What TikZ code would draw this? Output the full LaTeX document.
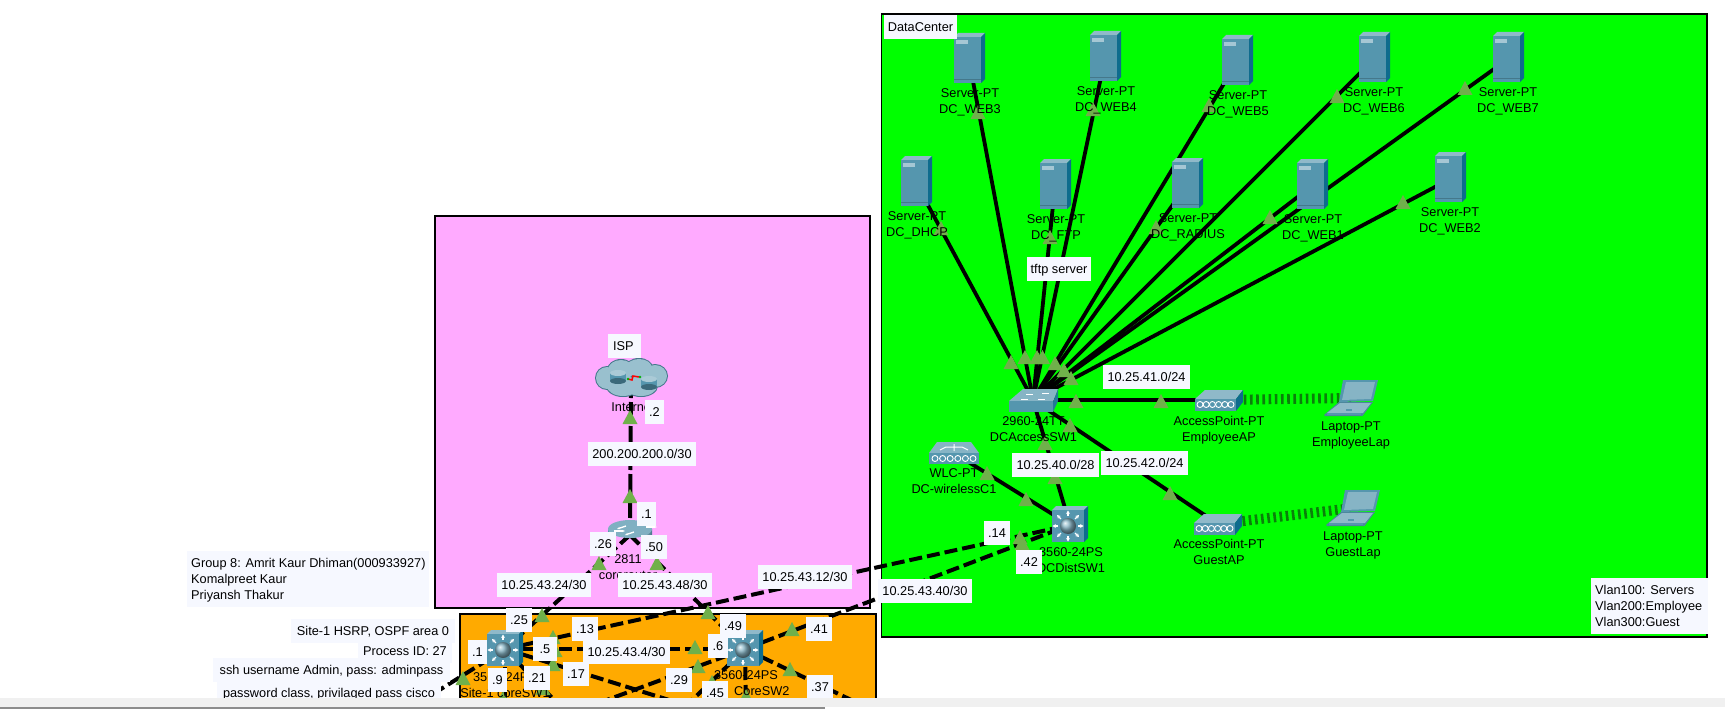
\documentclass[tikz,border=0pt]{standalone}
\usepackage{fontspec}
\usetikzlibrary{arrows.meta}
\setmainfont{Liberation Sans}
\definecolor{lampc}{HTML}{70B04B}
\definecolor{lblc}{HTML}{F6F8FF}
\definecolor{topc}{HTML}{8FB9C9}
\definecolor{frontc}{HTML}{5596AE}
\definecolor{sidec}{HTML}{0E6C8D}
\definecolor{wavec}{HTML}{0B7F0B}
\tikzset{
  x=1pt,y=-1pt,
  every node/.style={font=\fontsize{12.75}{16}\selectfont,text=black},
  hub/.style={inner sep=0pt,minimum size=1pt},
  eth/.style={line width=4pt,draw=black,dash pattern=on 13pt off 5pt},
  cable/.style={line width=3.8pt,draw=black},
  wave/.style={line width=10pt,draw=wavec,dash pattern=on 2.6pt off 3.6pt},
  zone/.style={draw=black,line width=1.1pt},
  lbl/.style={fill=lblc,inner sep=0pt,text height=9pt,text depth=0pt,minimum height=24pt},
  lblXS/.style={lbl,minimum width=19pt},
  lblS/.style={lbl,minimum width=26pt},
  lblM/.style={lbl,minimum width=87pt},
  lblL/.style={lbl,minimum width=94pt},
  tx/.style={inner sep=0pt,text height=9pt,text depth=0pt},
}
\newcommand\lampat[2]{\fill[lampc] (#1-7.5,#2+7) -- (#1+7.5,#2+7) -- (#1,#2-7) -- cycle;}
\newcommand\devtext[5]{%
  \node[tx] (#1-a) at (#2,#3) {#4};
  \node[tx] (#1-b) at (#2,#3+16) {#5};}
\newcommand\srvdraw[1]{\begin{scope}[shift={(#1.center)}]
  \fill[topc] (-15,-23) -- (-11,-27) -- (16,-27) -- (12,-23) -- cycle;
  \fill[sidec] (12,-23) -- (16,-27) -- (16,19) -- (12,23) -- cycle;
  \fill[frontc] (-15,-23) rectangle (12,23);
  \fill[frontc!80!black] (-15,19) rectangle (12,19.7);
  \fill[topc!80!white] (-13,-20) rectangle (-1,-16);
\end{scope}}
\newcommand\swdraw[1]{\begin{scope}[shift={(#1.center)}]
  \fill[topc] (-18,-15) -- (-14,-19) -- (18,-19) -- (14,-15) -- cycle;
  \fill[sidec] (14,-15) -- (18,-19) -- (18,13) -- (14,17) -- cycle;
  \fill[frontc] (-18,-15) rectangle (14,17);
  \foreach \a in {0,45,...,315}{
    \draw[white,line width=1.2pt,-{Stealth[length=3.5pt,width=4pt]}] (-2,1) ++(\a:10) -- ++(\a:5.5);}
  \shade[ball color=frontc!70!white] (-2,1) circle (8);
\end{scope}}
\newcommand\chain[3]{\foreach \k in {0,1,...,5}{\draw[white,line width=.9pt] (#1+\k*#3,#2) circle (3);}}
\newcommand\apdraw[1]{\begin{scope}[shift={(#1.center)}]
  \fill[topc] (-24,-1) -- (-14,-10) -- (24,-10) -- (17,-1) -- cycle;
  \fill[sidec] (17,-1) -- (24,-10) -- (24,2) -- (17,11) -- cycle;
  \fill[frontc] (-24,-1) rectangle (17,11);
  \chain{-19}{4.5}{6.2}
\end{scope}}
\newcommand\lapdraw[1]{\begin{scope}[shift={(#1.center)}]
  \fill[frontc] (-8,-18) -- (27,-18) -- (22,3) -- (-12,4) -- cycle;
  \fill[topc!85!frontc] (-5,-16) -- (24,-16) -- (20,1) -- (-9,2) -- cycle;
  \fill[frontc!90!black] (-27,17) -- (-12,4) -- (22,4) -- (11.5,18) -- (-26,18) -- cycle;
  \fill[topc] (-24,15) -- (-11,5) -- (20,5) -- (12,15) -- cycle;
  \fill[frontc] (-24,15) rectangle (10,17);
  \fill[frontc] (-5,11) rectangle (1,13);
\end{scope}}
\begin{document}
\begin{tikzpicture}
\useasboundingbox (0,0) rectangle (1725,709);
\fill[white] (0,0) rectangle (1725,709);
% zones
\filldraw[zone,fill={rgb,255:red,255;green,170;blue,255}] (435,216) rectangle (870,608);
\filldraw[zone,fill={rgb,255:red,255;green,170;blue,0}] (460,614) rectangle (876,720);
\filldraw[zone,fill={rgb,255:red,0;green,255;blue,0}] (881.5,14) rectangle (1707,637);
% device anchors
\node[hub] (isp) at (631,378) {};
\node[hub] (rt) at (630,535) {};
\node[hub] (cs1) at (505,649) {};
\node[hub] (cs2) at (745,649) {};
\node[hub] (dist) at (1070,525) {};
\node[hub] (acc) at (1033,400) {};
\node[hub] (wlc) at (954,453) {};
\node[hub] (apE) at (1219,400) {};
\node[hub] (apG) at (1218,524) {};
\node[hub] (lapE) at (1351,398) {};
\node[hub] (lapG) at (1353,508) {};
\node[hub] (W3) at (969,60) {};
\node[hub] (W4) at (1105,58) {};
\node[hub] (W5) at (1237,62) {};
\node[hub] (W6) at (1374,59) {};
\node[hub] (W7) at (1508,59) {};
\node[hub] (WD) at (916,183) {};
\node[hub] (WF) at (1055,186) {};
\node[hub] (WR) at (1187,185) {};
\node[hub] (W1) at (1312,186) {};
\node[hub] (W2) at (1450,179) {};
\coordinate (endA) at (425,699);
\coordinate (endB) at (505,720);
\coordinate (endC) at (558,704);
\coordinate (endD) at (682,704);
\coordinate (endE) at (596,704);
\coordinate (endF) at (686,706);
\coordinate (endG) at (746,720);
\coordinate (endH) at (870,709);
% connectors
\foreach \s in {W3,W4,W5,W6,W7,WD,WF,WR,W1,W2,apE,apG,dist}{\draw[cable] (\s.center) -- (acc.center);}
\draw[cable] (wlc.center) -- (dist.center);
\draw[wave] (apE.center) -- (lapE.center);
\draw[wave] (apG.center) -- (lapG.center);
\draw[eth,dash pattern=on 20pt off 4pt] (isp.center) -- (rt.center);
\draw[eth] (rt.center) -- (cs1.center);
\draw[eth] (rt.center) -- (cs2.center);
\draw[eth] (cs1.center) -- (cs2.center);
\draw[eth] (cs1.center) -- (dist.center);
\draw[eth] (cs2.center) -- (dist.center);
\draw[eth] (cs1.center) -- (endA);
\draw[eth] (cs1.center) -- (endB);
\draw[eth] (cs1.center) -- (endC);
\draw[eth] (cs1.center) -- (endD);
\draw[eth] (cs2.center) -- (endE);
\draw[eth] (cs2.center) -- (endF);
\draw[eth] (cs2.center) -- (endG);
\draw[eth] (cs2.center) -- (endH);
% link lights
\lampat{630}{417}\lampat{630}{496}\lampat{599}{563}\lampat{657}{563}
\lampat{542}{615}\lampat{553}{637}\lampat{555}{650}\lampat{553}{664}\lampat{463}{678}
\lampat{708}{612}\lampat{695}{647}\lampat{698}{666}\lampat{792}{629}\lampat{790}{669}
\lampat{712}{682}\lampat{746}{696}\lampat{503}{698}\lampat{543}{688}
\lampat{1020}{537}\lampat{1022}{543}
\lampat{1011}{362}\lampat{1025}{357}\lampat{1037}{357}\lampat{1042.5}{357}\lampat{1055}{363}
\lampat{1064}{370}\lampat{1071}{378}\lampat{1076}{401}\lampat{1161}{401}\lampat{1070}{425}
\lampat{1045}{443}\lampat{1055}{477}\lampat{987}{473}\lampat{1026}{499}\lampat{1170}{493}
\lampat{978}{112}\lampat{1093}{109}\lampat{1209}{105}\lampat{941}{228}\lampat{1050}{237}
\lampat{1156}{227}\lampat{1270}{217}\lampat{1337}{96}\lampat{1465}{88}\lampat{1403}{202}
% devices
\foreach \s in {W3,W4,W5,W6,W7,WD,WF,WR,W1,W2}{\srvdraw{\s}}
\swdraw{cs1}\swdraw{cs2}\swdraw{dist}
\apdraw{apE}\apdraw{apG}
\lapdraw{lapE}\lapdraw{lapG}
% 2960 switch
\begin{scope}[shift={(acc.center)}]
  \fill[topc!85!frontc] (-24,1) -- (-10,-11) -- (25,-11) -- (20,2) -- cycle;
  \fill[sidec!70!frontc] (20,2) -- (25,-11) -- (25,1) -- (20,12) -- cycle;
  \fill[frontc] (-24,1) rectangle (20,12);
  \foreach \p/\q in {-12/-1,-7/-6,5/-1,9/-7}{\draw[white,line width=.9pt] (\p,\q) -- ++(7,0);}
\end{scope}
% WLC
\begin{scope}[shift={(wlc.center)}]
  \fill[topc!85!frontc] (-25,0) -- (-17,-11) -- (17,-11) -- (25,0) -- cycle;
  \fill[frontc] (-25,0) rectangle (25,11);
  \draw[white,line width=1pt] (0,-9) -- (0,-2) (-8,-6) -- (8,-6) (-14,-3) -- (-8,-6) (14,-3) -- (8,-6);
  \chain{-19}{5.5}{7.6}
\end{scope}
% router
\begin{scope}[shift={(rt.center)}]
  \shade[left color=frontc,right color=frontc!80!black,middle color=white]
    (-22,-6) -- (-22,7) arc[start angle=180,end angle=360,x radius=22,y radius=8] -- (22,-6) -- cycle;
  \fill[frontc!75!white] (0,-6) ellipse[x radius=22,y radius=9];
  \foreach \a/\b in {-16/-4,16/-8}{\draw[white,line width=1.3pt,-{Stealth[length=3pt]}] (\a,\b) -- ++(11,0);}
  \foreach \a/\b in {-4/-9,4/-3}{\draw[white,line width=1.3pt,-{Stealth[length=3pt]}] (\a,\b) -- ++(-9,3);}
\end{scope}
% cloud
\begin{scope}[shift={(isp.center)}]
  \foreach \p/\q/\r/\u in {-24/0/11/11,-10/-8/13/10,8/-10/13/9,24/-2/12/11,-8/8/16/10,10/8/16/10}{
    \fill[frontc!80!black] (\p,\q) ellipse[x radius=\r+1,y radius=\u+1];}
  \foreach \p/\q/\r/\u in {-24/0/11/11,-10/-8/13/10,8/-10/13/9,24/-2/12/11,-8/8/16/10,10/8/16/10}{
    \fill[frontc!60!white] (\p,\q) ellipse[x radius=\r,y radius=\u];}
  \foreach \p/\q in {-13/-2,18/4}{
    \fill[frontc] (\p-8,\q-3) rectangle (\p+8,\q+5);
    \fill[frontc!70!black] (\p,\q+5) ellipse[x radius=8,y radius=3];
    \fill[frontc!50!white] (\p,\q-3) ellipse[x radius=8,y radius=3];}
  \draw[red,line width=1.5pt] (-3,1) -- (1,2) -- (2,-2) -- (8,-1);
  \fill[green!70!black] (-3,1) circle (1.3) (9,-1) circle (1.3);
\end{scope}
% device texts
\devtext{tW3}{970}{93}{Server-PT}{DC\_WEB3}
\devtext{tW4}{1106}{91}{Server-PT}{DC\_WEB4}
\devtext{tW5}{1238}{95}{Server-PT}{DC\_WEB5}
\devtext{tW6}{1374}{92}{Server-PT}{DC\_WEB6}
\devtext{tW7}{1508}{92}{Server-PT}{DC\_WEB7}
\devtext{tWD}{917}{216}{Server-PT}{DC\_DHCP}
\devtext{tWF}{1056}{219}{Server-PT}{DC\_FTP}
\devtext{tWR}{1188}{218}{Server-PT}{DC\_RADIUS}
\devtext{tW1}{1313}{219}{Server-PT}{DC\_WEB1}
\devtext{tW2}{1450}{212}{Server-PT}{DC\_WEB2}
\devtext{tAcc}{1033.5}{421}{2960-24TT}{DCAccessSW1}
\devtext{tApE}{1219}{421}{AccessPoint-PT}{EmployeeAP}
\devtext{tLapE}{1351}{426}{Laptop-PT}{EmployeeLap}
\devtext{tWlc}{954}{473}{WLC-PT}{DC-wirelessC1}
\devtext{tDist}{1071}{552}{3560-24PS}{DCDistSW1}
\devtext{tApG}{1219}{544}{AccessPoint-PT}{GuestAP}
\devtext{tLapG}{1353}{536}{Laptop-PT}{GuestLap}
\devtext{tRt}{628}{559}{2811}{corerouter}
\devtext{tCs1}{505}{677}{3560-24PS}{Site-1 coreSW1}
\node[tx] (tCs2a) at (746,675) {3560-24PS};
\node[tx,anchor=base west] (tCs2b) at (734,695.5) {CoreSW2};
\node[tx] (tIsp) at (633,407) {Internet};
% labels
\node[lbl,minimum width=73pt,minimum height=24pt] (nDC) at (920.5,27) {DataCenter};
\node[lbl,minimum width=33pt,text width=23pt,align=left] (nISP) at (624.5,346) {ISP};
\node[lblXS] (n2) at (654.5,412) {.2};
\node[lblXS] (n1) at (646.5,514) {.1};
\node[lbl,minimum width=108pt] (nNet) at (642,454) {200.200.200.0/30};
\node[lblS] (n26) at (603,543.5) {.26};
\node[lblS] (n50) at (654,546.5) {.50};
\node[lblL] (nA) at (544,585) {10.25.43.24/30};
\node[lblL] (nB) at (665,585) {10.25.43.48/30};
\node[lblL] (nC) at (805,577) {10.25.43.12/30};
\node[lblL] (nD) at (925,591) {10.25.43.40/30};
\node[lblS] (n14) at (997,532.5) {.14};
\node[lblS] (n42) at (1029,561.5) {.42};
\node[lblS] (n25) at (519,620) {.25};
\node[lblS] (n13) at (585,629) {.13};
\node[lbl,minimum width=24pt] (n5) at (545,648.5) {.5};
\node[lbl,minimum width=87pt] (nE) at (626.5,652) {10.25.43.4/30};
\node[lblXS] (nP1) at (477.5,651.5) {.1};
\node[lblXS] (n9) at (497.5,680) {.9};
\node[lblS] (n21) at (537,677.5) {.21};
\node[lblS] (n17) at (576,674) {.17};
\node[lblS] (n49) at (733,625.5) {.49};
\node[lbl,minimum width=20pt] (n6) at (718,646) {.6};
\node[lblS] (n41) at (819,628.5) {.41};
\node[lblS] (n29) at (679,680) {.29};
\node[lblS] (n45) at (715,693) {.45};
\node[lblS] (n37) at (820,686.5) {.37};
\node[lblM] (nF) at (1146.5,377) {10.25.41.0/24};
\node[lblM] (nG) at (1055.5,465) {10.25.40.0/28};
\node[lblM] (nH) at (1144.5,463) {10.25.42.0/24};
\node[lbl,minimum width=64pt] (nT) at (1059,269) {tftp server};
% notes
\node[lbl,minimum width=164pt] (nS1) at (373,631) {Site-1 HSRP, OSPF area 0};
\node[lbl,minimum width=94pt] (nS2) at (405,651) {Process ID: 27};
\node[lbl,minimum width=237pt] (nS3) at (331.5,670) {ssh username Admin, pass: adminpass};
\node[lbl,minimum width=224pt] (nS4) at (329,693) {password class, privilaged pass cisco};
\node[fill=lblc,inner sep=0pt,minimum width=242pt,minimum height=56pt] (nGrp) at (308,579) {};
\node[tx,anchor=west] (g1) at (191,563) {Group 8: Amrit Kaur Dhiman(000933927)};
\node[tx,anchor=west] (g2) at (191,579) {Komalpreet Kaur};
\node[tx,anchor=west] (g3) at (191,595) {Priyansh Thakur};
\node[fill=lblc,inner sep=0pt,minimum width=117pt,minimum height=56pt] (nVl) at (1649.5,606) {};
\node[tx,anchor=west] (v1) at (1595,590) {Vlan100: Servers};
\node[tx,anchor=west] (v2) at (1595,606) {Vlan200:Employee};
\node[tx,anchor=west] (v3) at (1595,622) {Vlan300:Guest};
% scroll bar
\fill[white] (0,698) rectangle (1725,709);
\fill[black!6] (0,698) rectangle (1725,707);
\fill[black!45] (0,707) rectangle (825,709);
\end{tikzpicture}
\end{document}
